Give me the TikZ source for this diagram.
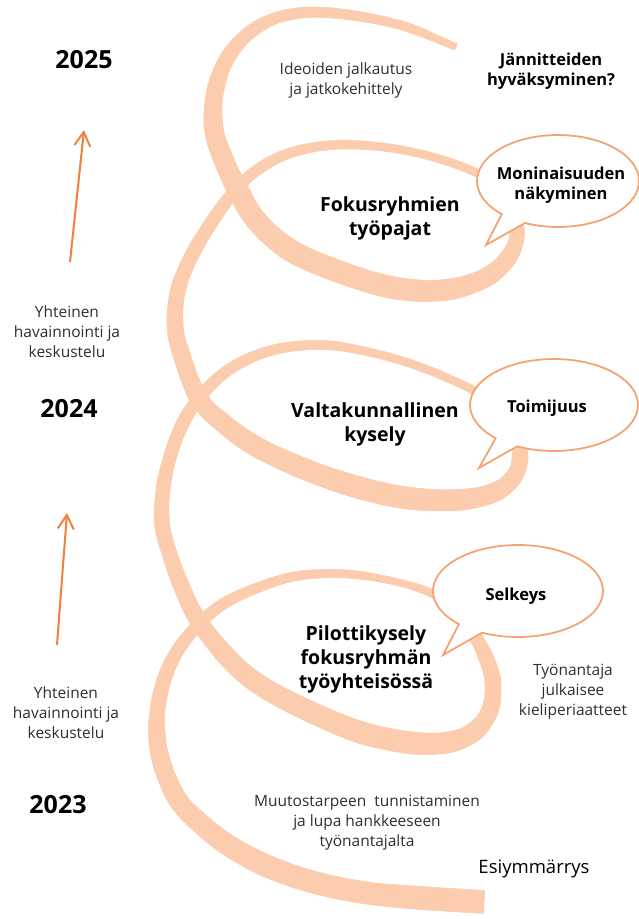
\documentclass[tikz,border=0pt]{standalone}
\usepackage{fontspec}
\setmainfont{Open Sans}
\usetikzlibrary{calc,arrows.meta}
\definecolor{rib}{RGB}{251,205,174}
\definecolor{bub}{RGB}{244,164,114}
\definecolor{arr}{RGB}{241,128,62}
% centre line of the spiral ribbon (pixel coordinates), first and last entries are phantom points
\def\PX{{512,456,400,333,287,253,228,215,214,225,238,256,290,340,395,445,485,508,517,512,496,475,433,383,333,290,257,233,211,191,178,175,180,198,223,257,307,357,407,457,493,513,520,516,500,473,423,373,323,273,233,203,183,170,163,162,169,181,198,230,263,313,363,413,450,475,490,493,487,476,458,433,397,347,297,257,223,198,178,165,158,157,163,178,200,228,267,313,367,422,484,546}}
\def\PY{{69,47,25,13,15,30,57,92,130,163,190,220,250,272,288,290,278,258,235,208,185,172,157,147,145,153,170,193,223,257,290,323,350,397,423,447,470,487,498,500,493,478,458,432,408,390,368,353,345,350,367,393,423,457,490,523,552,585,620,660,687,713,733,743,742,731,710,683,660,638,612,594,582,574,576,588,604,625,650,677,707,737,767,800,823,845,866,882,893,898,902,906}}
\def\PW{{7,7,9,10,11,13,15,17,19,20,21,21,22,22,22,21,19,17,15,12,9,8,8,8,9,10,11,12,13,14,15,16,17,18,19,20,21,22,22,21,19,17,16,13,10,8,8,8,9,10,11,12,13,13,14,15,15,16,17,19,20,21,22,22,21,19,17,16,15,13,10,8,7,8,9,10,11,12,13,14,15,17,18,19,20,21,22,22,22,23,23,23}}
\begin{document}
\begin{tikzpicture}[x=1pt,y=1pt,yscale=-1,
  ribbon/.style={fill=rib,draw=rib,line width=0.6pt,line join=round},
  bubble/.style={fill=white,draw=bub,line width=1.8pt,line join=miter},
  arrowst/.style={draw=arr,line width=2pt,-{Straight Barb[length=14pt,width=16pt]}},
  lt/.style={font=\fontsize{15.5}{20}\selectfont,text=black!82,align=center,inner sep=0pt},
  bt/.style={font=\bfseries\fontsize{19.5}{24}\selectfont,align=center,inner sep=0pt},
  bb/.style={font=\bfseries\fontsize{16.5}{20}\selectfont,align=center,inner sep=0pt},
  yr/.style={font=\bfseries\fontsize{25}{30}\selectfont,inner sep=0pt}]
\useasboundingbox (0,0) rectangle (639,919);
% spiral ribbon: Catmull-Rom segments with linearly varying width
\foreach \i in {1,...,89}{
  \pgfmathtruncatemacro\ia{\i-1}\pgfmathtruncatemacro\ic{\i+1}\pgfmathtruncatemacro\id{\i+2}
  \pgfmathsetmacro\xa{\PX[\ia]}\pgfmathsetmacro\ya{\PY[\ia]}
  \pgfmathsetmacro\xb{\PX[\i]}\pgfmathsetmacro\yb{\PY[\i]}
  \pgfmathsetmacro\xc{\PX[\ic]}\pgfmathsetmacro\yc{\PY[\ic]}
  \pgfmathsetmacro\xd{\PX[\id]}\pgfmathsetmacro\yd{\PY[\id]}
  \pgfmathsetmacro\wb{\PW[\i]/2}\pgfmathsetmacro\wc{\PW[\ic]/2}
  \pgfmathsetmacro\ab{atan2(\yc-\ya,\xc-\xa)}
  \pgfmathsetmacro\ac{atan2(\yd-\yb,\xd-\xb)}
  \pgfmathsetmacro\abp{\ab+90}\pgfmathsetmacro\abm{\ab-90}
  \pgfmathsetmacro\acp{\ac+90}\pgfmathsetmacro\acm{\ac-90}
  \pgfmathsetmacro\tbx{(\xc-\xa)/6}\pgfmathsetmacro\tby{(\yc-\ya)/6}
  \pgfmathsetmacro\tcx{(\xd-\xb)/6}\pgfmathsetmacro\tcy{(\yd-\yb)/6}
  \coordinate (L1) at ($(\xb,\yb)+(\abp:\wb)$);
  \coordinate (R1) at ($(\xb,\yb)+(\abm:\wb)$);
  \coordinate (L2) at ($(\xc,\yc)+(\acp:\wc)$);
  \coordinate (R2) at ($(\xc,\yc)+(\acm:\wc)$);
  \filldraw[ribbon] (L1) .. controls ($(L1)+(\tbx,\tby)$) and ($(L2)-(\tcx,\tcy)$) .. (L2)
     -- (R2) .. controls ($(R2)-(\tcx,\tcy)$) and ($(R1)+(\tbx,\tby)$) .. (R1) -- cycle;
}
% speech bubbles
\coordinate (mc) at (558,181);
\coordinate (tc) at (554,405);
\coordinate (sc) at (518,591);
\filldraw[bubble] (mc) ++(134:81 and 46) arc[start angle=134,end angle=474,x radius=81,y radius=46] -- (486,245) -- cycle;
\filldraw[bubble] (tc) ++(134:84 and 46) arc[start angle=134,end angle=476,x radius=84,y radius=46] -- (479,468) -- cycle;
\filldraw[bubble] (sc) ++(134:85 and 46) arc[start angle=134,end angle=475,x radius=85,y radius=46] -- (443,655) -- cycle;
% arrows
\coordinate (a1s) at (70,262);
\coordinate (a1e) at (84,130);
\coordinate (a2s) at (57,645);
\coordinate (a2e) at (67,513);
\draw[arrowst] (a1s) -- (a1e);
\draw[arrowst] (a2s) -- (a2e);
% texts
\node[yr] (y25) at (84,60) {2025};
\node[yr] (y24) at (69,409) {2024};
\node[yr] (y23) at (58,805) {2023};
\node[lt] (ide) at (346,80) {Ideoiden jalkautus\\ja jatkokehittely};
\node[bb] (jan) at (551,71) {Jännitteiden\\hyväksyminen?};
\node[bt] (fok) at (390,218) {Fokusryhmien\\työpajat};
\node[bb] (mon) at (561,185) {Moninaisuuden\\näkyminen};
\node[lt] (yh1) at (67,332) {Yhteinen\\havainnointi ja\\keskustelu};
\node[bt] (val) at (375,424) {Valtakunnallinen\\kysely};
\node[bb] (toi) at (547,408) {Toimijuus};
\node[bb] (sel) at (516,596) {Selkeys};
\node[bt] (pil) at (366,659) {Pilottikysely\\fokusryhmän\\työyhteisössä};
\node[lt] (tyo) at (573,692) {Työnantaja\\julkaisee\\kieliperiaatteet};
\node[lt] (yh2) at (66,713) {Yhteinen\\havainnointi ja\\keskustelu};
\node[lt] (muu) at (367,823) {Muutostarpeen\ \ tunnistaminen\\ja lupa hankkeeseen\\työnantajalta};
\node[font=\fontsize{18.5}{22}\selectfont,inner sep=0pt] (esi) at (534,869) {Esiymmärrys};
\end{tikzpicture}
\end{document}
